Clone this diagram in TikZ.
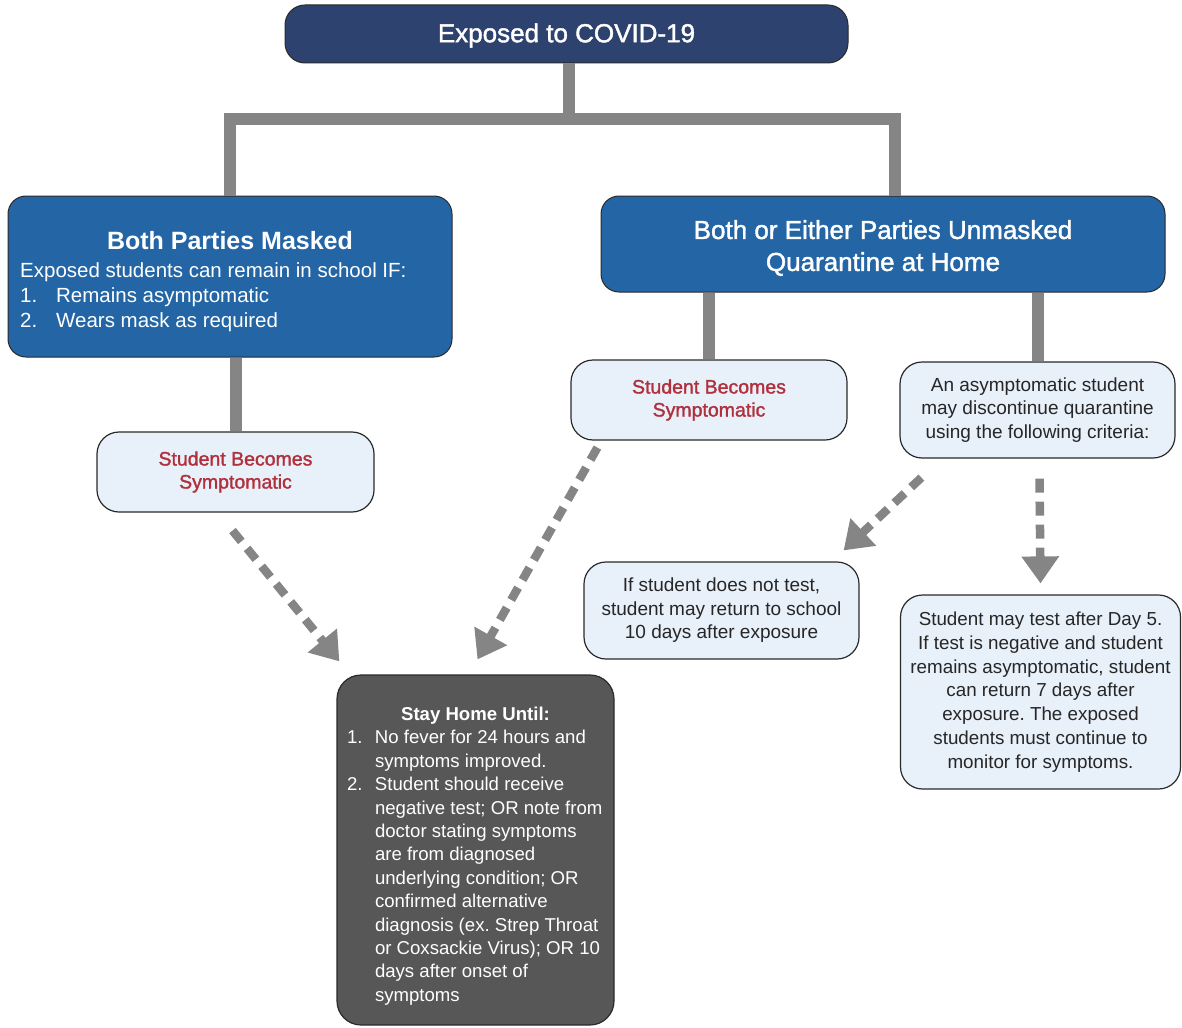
\documentclass[tikz,border=0pt]{standalone}
\usepackage{fontspec}
\setmainfont{Liberation Sans}
\newfontfamily\medfont{Liberation Sans}[UprightFeatures={FakeBold=1.5}]
\usetikzlibrary{arrows.meta,calc}
\definecolor{navy}{HTML}{2D426E}
\definecolor{midblue}{HTML}{2466A5}
\definecolor{paleblue}{HTML}{E8F0FA}
\definecolor{symred}{HTML}{B0303C}
\definecolor{darkbox}{HTML}{575757}
\definecolor{linegray}{HTML}{858585}
\definecolor{edge}{HTML}{2A2A2A}
\frenchspacing
\begin{document}
\begin{tikzpicture}[x=1pt,y=-1pt,
  treeline/.style={draw=linegray,line width=12pt,line join=miter},
  dasharrow/.style={draw=linegray,line width=8.5pt,dash pattern=on 14pt off 9pt,
    -{Triangle[width=36pt,length=27pt]}},
  topbox/.style={rectangle,rounded corners=20pt,draw=edge,line width=1pt,fill=navy,
    inner sep=0pt},
  bluebox/.style={rectangle,rounded corners=18pt,draw=edge,line width=1pt,fill=midblue,
    inner sep=0pt},
  palebox/.style={rectangle,rounded corners=22pt,draw=edge,line width=1.2pt,fill=paleblue,
    text=black!85,inner sep=0pt,align=center},
  darkstyle/.style={rectangle,rounded corners=24pt,draw=edge,line width=1.2pt,fill=darkbox,
    inner sep=0pt},
  plain/.style={inner sep=0pt,text=white}
]
\useasboundingbox (0,0) rectangle (1182,1027);

% boxes
\node[topbox,minimum width=563pt,minimum height=58pt] (top) at (566.5,34) {};
\node[plain,font=\fontsize{26}{30}\medfont] (toptext) at (566.5,35.5) {Exposed to COVID-19};

\node[bluebox,minimum width=444pt,minimum height=161pt] (lbox) at (230,276.5) {};
\node[plain,font=\fontsize{25}{30}\selectfont\bfseries] (lboxhead) at (230,241) {Both Parties Masked};
\node[plain,anchor=west,align=left,font=\fontsize{20.5}{25}\selectfont] (lboxbody) at (20,297)
  {Exposed students can remain in school IF:\\
   \makebox[36pt][l]{1.}Remains asymptomatic\\
   \makebox[36pt][l]{2.}Wears mask as required};

\node[bluebox,minimum width=564pt,minimum height=96pt] (rbox) at (883,244) {};
\node[plain,align=center,font=\fontsize{26}{32}\medfont] (rboxtext) at (883,248)
  {Both or Either Parties Unmasked\\Quarantine at Home};

\node[palebox,minimum width=277pt,minimum height=80pt,text=symred,font=\fontsize{19.5}{23}\medfont] (sym1) at (235.5,472)
  {Student Becomes\\Symptomatic};
\node[palebox,minimum width=276pt,minimum height=80pt,text=symred,font=\fontsize{19.5}{23}\medfont] (sym2) at (709,400)
  {Student Becomes\\Symptomatic};
\node[palebox,minimum width=275pt,minimum height=96pt,font=\fontsize{19}{23.5}\selectfont] (crit) at (1037.5,410)
  {An asymptomatic student\\may discontinue quarantine\\using the following criteria:};
\node[palebox,minimum width=275pt,minimum height=97pt,font=\fontsize{19}{23.5}\selectfont] (notest) at (721.5,610.5)
  {If student does not test,\\student may return to school\\10 days after exposure};
\node[palebox,minimum width=280pt,minimum height=194pt,font=\fontsize{18.8}{23.8}\selectfont] (test5) at (1040.5,692)
  {Student may test after Day 5.\\If test is negative and student\\remains asymptomatic, student\\can return 7 days after\\exposure. The exposed\\students must continue to\\monitor for symptoms.};

\node[darkstyle,minimum width=277pt,minimum height=350pt] (stay) at (475.5,850) {};
\node[plain,align=left,font=\fontsize{18.6}{23.4}\selectfont] (staytext) at (475.5,856)
  {\makebox[257pt]{\bfseries Stay Home Until:}\\
   \makebox[28pt][l]{1.}No fever for 24 hours and\\
   \hspace*{28pt}symptoms improved.\\
   \makebox[28pt][l]{2.}Student should receive\\
   \hspace*{28pt}negative test; OR note from\\
   \hspace*{28pt}doctor stating symptoms\\
   \hspace*{28pt}are from diagnosed\\
   \hspace*{28pt}underlying condition; OR\\
   \hspace*{28pt}confirmed alternative\\
   \hspace*{28pt}diagnosis (ex. Strep Throat\\
   \hspace*{28pt}or Coxsackie Virus); OR 10\\
   \hspace*{28pt}days after onset of\\
   \hspace*{28pt}symptoms};

% tree connectors
\coordinate (hub) at (569,120);
\draw[treeline] (top.south -| hub) -- (hub);
\draw[treeline] (lbox.north) |- ($(rbox.north)+(12,-76)$) -- ($(rbox.north)+(12,0)$);
\draw[treeline] (lbox.south -| sym1.north) -- (sym1.north);
\draw[treeline] (rbox.south -| sym2.north) -- (sym2.north);
\draw[treeline] (rbox.south -| crit.north) -- (crit.north);

% dashed arrows
\draw[dasharrow] ($(sym1.south)+(-3,18)$) -- ($(stay.north west)+(3,-13)$);
\draw[dasharrow] ($(sym2.south west)+(27,7)$) -- ($(stay.north)+(2,-15)$);
\draw[dasharrow] ($(crit.south west)+(22,19)$) -- ($(notest.north east)+(-16,-11)$);
\draw[dasharrow] ($(crit.south)+(2,20)$) -- ($(test5.north)+(0,-11)$);
\end{tikzpicture}
\end{document}
